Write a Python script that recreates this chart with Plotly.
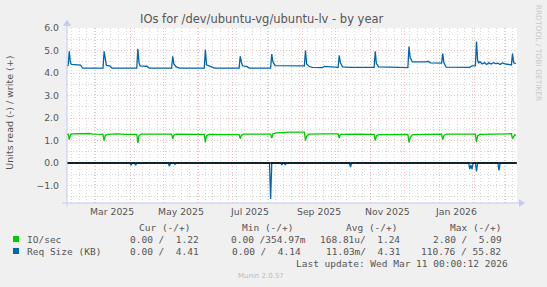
import plotly.graph_objects as go

# ---------------- data ----------------
req_write_dates = ["2025-02-04", "2025-02-05", "2025-02-06", "2025-02-07", "2025-02-08", "2025-02-16", "2025-02-18",
                   "2025-02-22", "2025-02-23", "2025-02-25", "2025-02-27", "2025-03-01", "2025-03-08", "2025-03-09",
                   "2025-03-10", "2025-03-11", "2025-03-14", "2025-03-16", "2025-04-07", "2025-04-08", "2025-04-09",
                   "2025-04-10", "2025-04-16", "2025-04-18", "2025-05-08", "2025-05-09", "2025-05-10", "2025-05-12",
                   "2025-05-15", "2025-06-06", "2025-06-07", "2025-06-08", "2025-06-13", "2025-06-15", "2025-07-07",
                   "2025-07-08", "2025-07-09", "2025-07-10", "2025-07-14", "2025-07-16", "2025-08-04", "2025-08-05",
                   "2025-08-06", "2025-08-08", "2025-09-03", "2025-09-04", "2025-09-05", "2025-09-07", "2025-09-10",
                   "2025-09-19", "2025-09-21", "2025-09-24", "2025-09-26", "2025-10-03", "2025-10-04", "2025-10-05",
                   "2025-10-07", "2025-10-13", "2025-11-04", "2025-11-05", "2025-11-06", "2025-11-08", "2025-12-04",
                   "2025-12-05", "2025-12-06", "2025-12-08", "2025-12-20", "2025-12-22", "2025-12-24", "2026-01-03",
                   "2026-01-04", "2026-01-05", "2026-01-07", "2026-01-28", "2026-01-30", "2026-02-02", "2026-02-03",
                   "2026-02-04", "2026-02-05", "2026-02-06", "2026-02-08", "2026-02-10", "2026-02-12", "2026-02-14",
                   "2026-02-16", "2026-02-18", "2026-02-20", "2026-02-22", "2026-02-24", "2026-02-26", "2026-03-01",
                   "2026-03-06", "2026-03-07", "2026-03-08", "2026-03-10"]
req_write_vals = [4.32, 4.34, 4.96, 4.48, 4.38, 4.35, 4.22,
                  4.22, 4.25, 4.23, 4.25, 4.22, 4.22, 4.96,
                  4.52, 4.34, 4.32, 4.22, 4.22, 5.08, 4.45,
                  4.32, 4.30, 4.22, 4.22, 4.74, 4.40, 4.27,
                  4.22, 4.22, 5.04, 4.36, 4.26, 4.22, 4.22,
                  4.74, 4.50, 4.32, 4.28, 4.22, 4.22, 4.84,
                  4.50, 4.33, 4.32, 5.00, 4.40, 4.30, 4.25,
                  4.24, 4.29, 4.28, 4.25, 4.25, 4.77, 4.45,
                  4.27, 4.25, 4.25, 4.96, 4.42, 4.27, 4.24,
                  5.18, 4.70, 4.49, 4.49, 4.52, 4.45, 4.44,
                  4.86, 4.45, 4.26, 4.25, 4.32, 4.33, 5.40,
                  4.55, 4.45, 4.50, 4.40, 4.46, 4.38, 4.45,
                  4.40, 4.46, 4.42, 4.44, 4.38, 4.45, 4.40,
                  4.36, 4.86, 4.45, 4.41]

req_read_dates = ["2025-02-04", "2025-04-01", "2025-04-02", "2025-04-03", "2025-04-05", "2025-04-06", "2025-04-07",
                  "2025-05-05", "2025-05-06", "2025-05-07", "2025-05-10", "2025-05-11", "2025-05-12", "2025-08-03",
                  "2025-08-04", "2025-08-05", "2025-08-13", "2025-08-14", "2025-08-15", "2025-08-16", "2025-08-17",
                  "2025-08-18", "2025-10-13", "2025-10-14", "2025-10-15", "2026-01-27", "2026-01-28", "2026-01-29",
                  "2026-01-30", "2026-01-31", "2026-02-02", "2026-02-03", "2026-02-04", "2026-02-22", "2026-02-23",
                  "2026-02-24", "2026-03-10"]
req_read_vals = [0, 0, -0.10, 0, 0, -0.10, 0,
                 0, -0.15, 0, 0, -0.06, 0, 0,
                 -1.60, 0, 0, -0.07, 0, 0, -0.07,
                 0, 0, -0.18, 0, 0, -0.27, -0.10,
                 -0.27, 0, 0, -0.37, 0, 0, -0.33,
                 0, 0]

io_write_dates = ["2025-02-04", "2025-02-05", "2025-02-06", "2025-02-07", "2025-02-08", "2025-02-14", "2025-02-17",
                  "2025-02-20", "2025-02-24", "2025-02-27", "2025-03-03", "2025-03-08", "2025-03-09", "2025-03-10",
                  "2025-03-12", "2025-03-20", "2025-03-28", "2025-04-03", "2025-04-07", "2025-04-08", "2025-04-09",
                  "2025-04-11", "2025-04-25", "2025-05-08", "2025-05-09", "2025-05-10", "2025-05-12", "2025-05-25",
                  "2025-06-06", "2025-06-07", "2025-06-08", "2025-06-10", "2025-06-25", "2025-07-07", "2025-07-08",
                  "2025-07-09", "2025-07-11", "2025-07-25", "2025-08-04", "2025-08-05", "2025-08-06", "2025-08-09",
                  "2025-08-20", "2025-09-03", "2025-09-04", "2025-09-05", "2025-09-07", "2025-09-20", "2025-10-03",
                  "2025-10-04", "2025-10-05", "2025-10-20", "2025-11-04", "2025-11-05", "2025-11-06", "2025-11-08",
                  "2025-11-20", "2025-12-04", "2025-12-05", "2025-12-06", "2025-12-08", "2025-12-20", "2026-01-03",
                  "2026-01-04", "2026-01-05", "2026-01-07", "2026-01-20", "2026-02-02", "2026-02-03", "2026-02-04",
                  "2026-02-06", "2026-02-20", "2026-03-06", "2026-03-07", "2026-03-08", "2026-03-09", "2026-03-10"]
io_write_vals = [1.26, 1.28, 1.04, 1.24, 1.29, 1.31, 1.30,
                 1.32, 1.31, 1.28, 1.27, 1.27, 0.99, 1.22,
                 1.27, 1.29, 1.27, 1.28, 1.27, 0.89, 1.22,
                 1.28, 1.29, 1.28, 1.07, 1.24, 1.28, 1.28,
                 1.27, 0.92, 1.20, 1.27, 1.26, 1.26, 1.08,
                 1.24, 1.28, 1.29, 1.28, 1.11, 1.30, 1.34,
                 1.37, 1.37, 0.99, 1.20, 1.28, 1.29, 1.29,
                 1.11, 1.27, 1.28, 1.27, 0.99, 1.20, 1.26,
                 1.25, 1.27, 0.92, 1.12, 1.26, 1.28, 1.28,
                 1.04, 1.22, 1.28, 1.27, 1.28, 0.93, 1.20,
                 1.27, 1.29, 1.30, 1.08, 1.20, 1.26, 1.22]

x_label_dates = ["2025-03-16", "2025-05-16", "2025-07-16", "2025-09-16", "2025-11-16", "2026-01-16"]
x_label_text = ["Mar 2025", "May 2025", "Jul 2025", "Sep 2025", "Nov 2025", "Jan 2026"]

legend_names = ["IO/sec", "Req Size (KB)"]
legend_colors = ["#00CC00", "#0066B3"]
legend_cur = ["0.00 /  1.22", "0.00 /  4.41"]
legend_min = ["0.00 /354.97m", "0.00 /  4.14 "]
legend_avg = ["168.81u/  1.24 ", "11.03m/  4.31 "]
legend_max = ["2.80 /  5.09 ", "110.76 / 55.82 "]
legend_headers = ["Cur (-/+)", "Min (-/+)", "Avg (-/+)", "Max (-/+)"]

# ---------------- geometry ----------------
W, H = 547, 287
PL, PR, PT, PB = 67, 517, 28.3, 203.3
PW, PH = PR - PL, PB - PT


def px(x):
    return (x - PL) / PW


def py(y):
    return (PB - y) / PH


TXT = "#555555"
SANS = "DejaVu Sans"
MONO = "DejaVu Sans Mono"
AXC = "#C4CAF2"

fig = go.Figure()
fig.add_trace(go.Scatter(x=io_write_dates, y=io_write_vals, mode="lines",
                         line=dict(color="#00CC00", width=1.3), hoverinfo="skip"))
fig.add_trace(go.Scatter(x=req_read_dates, y=req_read_vals, mode="lines",
                         line=dict(color="#0066B3", width=1.3), hoverinfo="skip"))
fig.add_trace(go.Scatter(x=req_write_dates, y=req_write_vals, mode="lines",
                         line=dict(color="#0066B3", width=1.3), hoverinfo="skip"))

grid_major = "rgba(240,150,150,0.6)"
grid_minor = "rgba(200,200,200,0.7)"

fig.update_layout(
    width=W, height=H,
    margin=dict(l=PL, r=W - PR, t=PT, b=H - PB),
    paper_bgcolor="#F0F0F0", plot_bgcolor="#FFFFFF",
    showlegend=False,
    xaxis=dict(type="date", range=["2025-02-04", "2026-03-11"],
               dtick="M1", tick0="2025-01-01", showticklabels=False,
               showgrid=True, gridcolor=grid_major, griddash="1px,2px", gridwidth=1,
               minor=dict(dtick=7 * 86400000, tick0="2025-02-07 18:00", showgrid=True,
                          gridcolor=grid_minor, griddash="1px,2px", gridwidth=1),
               showline=False, zeroline=False, fixedrange=True),
    yaxis=dict(range=[-1.778, 6.0], dtick=1, tick0=0, tickformat=".1f",
               showgrid=True, gridcolor=grid_major, griddash="1px,2px", gridwidth=1,
               minor=dict(dtick=0.5, showgrid=True, gridcolor=grid_minor, griddash="1px,2px", gridwidth=1),
               tickfont=dict(family=SANS, size=9.3, color=TXT), ticklabelstandoff=7,
               showline=False, zeroline=False, fixedrange=True),
)

shapes = []
# zero line
shapes.append(dict(type="line", xref="paper", yref="y", x0=0, x1=1, y0=0, y1=0,
                   line=dict(color="#000000", width=1.5), layer="above"))
# axes with arrows
shapes.append(dict(type="line", xref="paper", yref="paper", x0=px(62), x1=px(520), y0=0, y1=0,
                   line=dict(color=AXC, width=1), layer="above"))
shapes.append(dict(type="line", xref="paper", yref="paper", x0=0, x1=0, y0=py(207), y1=py(25),
                   line=dict(color=AXC, width=1), layer="above"))
shapes.append(dict(type="path", xref="paper", yref="paper",
                   path=f"M {px(519)} {py(199.3)} L {px(525)} {py(203.3)} L {px(519)} {py(207.3)} Z",
                   fillcolor=AXC, line=dict(width=0), layer="above"))
shapes.append(dict(type="path", xref="paper", yref="paper",
                   path=f"M {px(63)} {py(26)} L {px(67)} {py(20)} L {px(71)} {py(26)} Z",
                   fillcolor=AXC, line=dict(width=0), layer="above"))
# legend squares
for i, c in enumerate(legend_colors):
    yc = 239.3 + 12 * i
    shapes.append(dict(type="rect", xref="paper", yref="paper",
                       x0=px(13), x1=px(19), y0=py(yc - 3), y1=py(yc + 3),
                       fillcolor=c, line=dict(color=c, width=0)))
fig.update_layout(shapes=shapes)

ann = []
# title
ann.append(dict(text="IOs for /dev/ubuntu-vg/ubuntu-lv - by year", xref="paper", yref="paper",
                x=px(262), y=py(19), xanchor="center", yanchor="middle", showarrow=False,
                font=dict(family=SANS, size=11.5, color=TXT)))
# y title
ann.append(dict(text="Units read (-) / write (+)", xref="paper", yref="paper",
                x=px(10), y=py(113), xanchor="center", yanchor="middle", showarrow=False,
                textangle=-90, font=dict(family=SANS, size=9.5, color=TXT)))
# x labels
for d, t in zip(x_label_dates, x_label_text):
    ann.append(dict(text=t, xref="x", yref="paper", x=d, y=py(212), xanchor="center",
                    yanchor="middle", showarrow=False, font=dict(family=SANS, size=9.3, color=TXT)))
# right vertical text
ann.append(dict(text="RRDTOOL / TOBI OETIKER", xref="paper", yref="paper", x=px(538), y=py(53),
                xanchor="center", yanchor="middle", showarrow=False, textangle=90,
                font=dict(family=SANS, size=7.5, color="#C8C8C8")))


def nb(s):
    return s.replace(" ", "\u00a0")


mono = dict(family=MONO, size=9.5, color=TXT)
header_right = [192, 295, 398.5, 503]
for h, xr in zip(legend_headers, header_right):
    ann.append(dict(text=nb(h), xref="paper", yref="paper", x=px(xr), y=py(227.7),
                    xanchor="right", yanchor="middle", showarrow=False, font=mono))
cols = [(legend_cur, 200.5), (legend_min, 307.5), (legend_avg, 408), (legend_max, 508.5)]
for i, name in enumerate(legend_names):
    yc = 239.3 + 12 * i
    ann.append(dict(text=nb(name), xref="paper", yref="paper", x=px(25), y=py(yc),
                    xanchor="left", yanchor="middle", showarrow=False, font=mono))
    for vals, xr in cols:
        ann.append(dict(text=nb(vals[i]), xref="paper", yref="paper", x=px(xr), y=py(yc),
                        xanchor="right", yanchor="middle", showarrow=False, font=mono))
ann.append(dict(text=nb("Last update: Wed Mar 11 00:00:12 2026"), xref="paper", yref="paper",
                x=px(509.5), y=py(263.7), xanchor="right", yanchor="middle", showarrow=False, font=mono))
ann.append(dict(text="Munin 2.0.57", xref="paper", yref="paper", x=px(260.5), y=py(276),
                xanchor="center", yanchor="middle", showarrow=False,
                font=dict(family=SANS, size=7, color="#BBBBBB")))
fig.update_layout(annotations=ann)

fig.write_html("out.html", config=dict(displayModeBar=False))
